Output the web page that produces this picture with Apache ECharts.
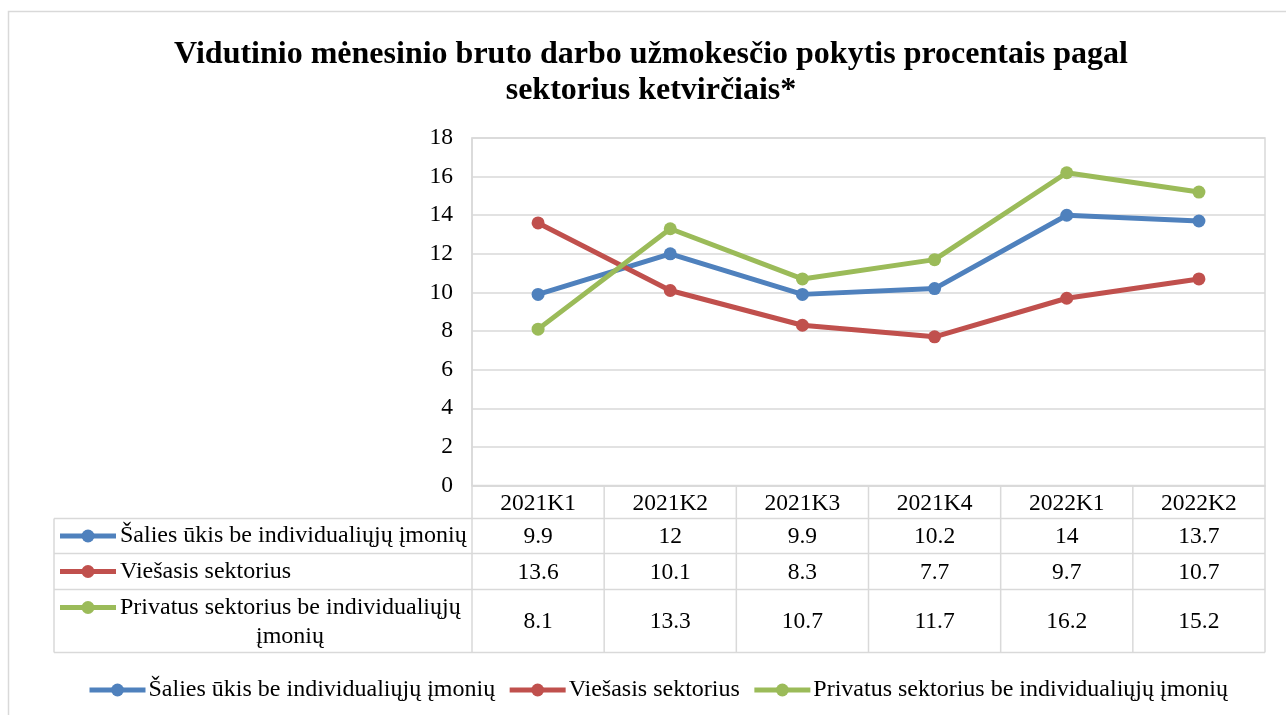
<!DOCTYPE html>
<html>
<head>
<meta charset="utf-8">
<script src="https://cdn.jsdelivr.net/npm/echarts@6/dist/echarts.min.js"></script>
<style>
  html, body { margin: 0; padding: 0; background: #fff; }
  #main { width: 1286px; height: 715px; }
</style>
</head>
<body>
<div id="main"></div>
<script>
const quarters = ['2021K1', '2021K2', '2021K3', '2021K4', '2022K1', '2022K2'];
const seriesNames = [
  'Šalies ūkis be individualiųjų įmonių',
  'Viešasis sektorius',
  'Privatus sektorius be individualiųjų įmonių'
];
const salies = [9.9, 12, 9.9, 10.2, 14, 13.7];
const viesasis = [13.6, 10.1, 8.3, 7.7, 9.7, 10.7];
const privatus = [8.1, 13.3, 10.7, 11.7, 16.2, 15.2];
const yTicks = [0, 2, 4, 6, 8, 10, 12, 14, 16, 18];

const colors = ['#4f81bd', '#c0504d', '#9bbb59'];
const font = '"Liberation Serif", "Times New Roman", serif';
const gridColor = '#d9d9d9';
const fs = 23.5;   // numbers
const fsLabel = 24; // series names

const chart = echarts.init(document.getElementById('main'));

function lineSeries(name, data, color) {
  return {
    name: name,
    type: 'line',
    data: data,
    symbol: 'circle',
    symbolSize: 13,
    lineStyle: { color: color, width: 5 },
    itemStyle: { color: color },
    z: 5
  };
}

chart.setOption({
  animation: false,
  title: {
    text: 'Vidutinio mėnesinio bruto darbo užmokesčio pokytis procentais pagal\nsektorius ketvirčiais*',
    left: 646,
    top: 32,
    textAlign: 'center',
    textStyle: { fontFamily: font, fontSize: 32, fontWeight: 'bold', color: '#000', lineHeight: 36 }
  },
  grid: {
    left: 472, right: 21, top: 138, bottom: 229.5,
    show: true, borderColor: gridColor, borderWidth: 1.5
  },
  legend: {
    left: 87,
    top: 678,
    padding: 0,
    itemWidth: 56,
    itemHeight: 16,
    itemGap: 12,
    lineStyle: { width: 5 },
    textStyle: { fontFamily: font, fontSize: fsLabel, color: '#000', padding: [0, 0, 0, -2] },
    data: seriesNames
  },
  xAxis: {
    type: 'category',
    data: quarters,
    boundaryGap: true,
    axisLine: { lineStyle: { color: gridColor, width: 1.5 } },
    axisTick: { show: false },
    axisLabel: { fontFamily: font, fontSize: fs, color: '#000', margin: 6 }
  },
  yAxis: {
    type: 'value',
    min: yTicks[0],
    max: yTicks[yTicks.length - 1],
    interval: 2,
    axisLine: { show: true, lineStyle: { color: gridColor, width: 1.5 } },
    axisTick: { show: false },
    splitLine: { lineStyle: { color: gridColor, width: 1.5 } },
    axisLabel: { fontFamily: font, fontSize: fs, color: '#000', margin: 19 }
  },
  series: [
    lineSeries(seriesNames[0], salies, colors[0]),
    lineSeries(seriesNames[1], viesasis, colors[1]),
    lineSeries(seriesNames[2], privatus, colors[2])
  ]
});

// data table under the axis, positioned from the axes
const cx0 = chart.convertToPixel({ xAxisIndex: 0 }, 0);
const cx1 = chart.convertToPixel({ xAxisIndex: 0 }, 1);
const bw = cx1 - cx0;
const xLeft = cx0 - bw / 2;
const xRight = xLeft + bw * quarters.length;
const y0 = chart.convertToPixel({ yAxisIndex: 0 }, 0);
const tableLeft = 54;
const rowEdges = [y0, y0 + 33, y0 + 68, y0 + 104, y0 + 167];
const rows = [salies, viesasis, privatus];

const g = [];
const stroke = { stroke: gridColor, lineWidth: 1.5 };
function hline(x1, x2, y) {
  g.push({ type: 'line', shape: { x1: x1, y1: y, x2: x2, y2: y }, style: stroke, silent: true });
}
function vline(x, y1, y2) {
  g.push({ type: 'line', shape: { x1: x, y1: y1, x2: x, y2: y2 }, style: stroke, silent: true });
}
function txt(x, y, text, align, size) {
  g.push({
    type: 'text', x: x, y: y, silent: true,
    style: { text: text, fill: '#000', font: (size || fs) + 'px ' + font, align: align || 'center', verticalAlign: 'middle' }
  });
}

for (let r = 1; r < rowEdges.length; r++) hline(tableLeft, xRight, rowEdges[r]);
vline(tableLeft, rowEdges[1], rowEdges[4]);
for (let i = 0; i <= quarters.length; i++) vline(xLeft + bw * i, rowEdges[0], rowEdges[4]);

rows.forEach(function (vals, r) {
  const top = rowEdges[r + 1];
  const bottom = rowEdges[r + 2];
  const mid = (top + bottom) / 2;
  vals.forEach(function (v, i) {
    txt(chart.convertToPixel({ xAxisIndex: 0 }, i), mid + 1, String(v));
  });
  const iconY = r < 2 ? mid : top + 18;
  g.push({ type: 'line', shape: { x1: 60, y1: iconY, x2: 116, y2: iconY },
    style: { stroke: colors[r], lineWidth: 5 }, silent: true });
  g.push({ type: 'circle', shape: { cx: 88, cy: iconY, r: 6.5 },
    style: { fill: colors[r] }, silent: true });
  if (r < 2) {
    txt(120, iconY, seriesNames[r], 'left', fsLabel);
  } else {
    txt(120, iconY, 'Privatus sektorius be individualiųjų', 'left', fsLabel);
    txt(290, iconY + 29, 'įmonių', 'center', fsLabel);
  }
});

// outer chart frame
g.push({ type: 'rect', shape: { x: 8.5, y: 11.5, width: 1400, height: 800 },
  style: { fill: null, stroke: gridColor, lineWidth: 1.5 }, silent: true, z: -1 });

chart.setOption({ graphic: g });
</script>
</body>
</html>
